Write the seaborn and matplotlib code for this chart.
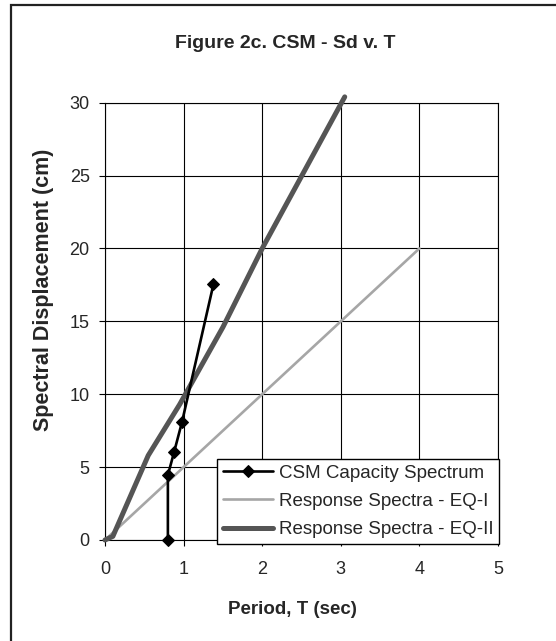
import matplotlib
matplotlib.use("Agg")
import matplotlib.pyplot as plt
import seaborn as sns
import pandas as pd
from matplotlib.patches import Rectangle

# Data
csm_T = [0.8, 0.8, 0.88, 0.98, 1.38]
csm_Sd = [0.0, 4.45, 6.05, 8.1, 17.55]

eq1_T = [0.0, 4.0]
eq1_Sd = [0.0, 20.0]

eq2_T = [0.0, 0.1, 0.55, 0.95, 1.5, 2.0, 3.05]
eq2_Sd = [0.0, 0.25, 5.8, 9.3, 14.6, 20.0, 30.4]

x_ticks = [0, 1, 2, 3, 4, 5]
y_ticks = [0, 5, 10, 15, 20, 25, 30]

labels = ["CSM Capacity Spectrum", "Response Spectra - EQ-I", "Response Spectra - EQ-II"]

sns.set_style("white")
plt.rcParams["font.family"] = ["Liberation Sans", "DejaVu Sans"]

fig = plt.figure(figsize=(5.56, 6.41), dpi=100)
ax = fig.add_axes([105/556, 1-540/641, (498-105)/556, (540-102.7)/641])

df1 = pd.DataFrame({"T": csm_T, "Sd": csm_Sd})
df2 = pd.DataFrame({"T": eq1_T, "Sd": eq1_Sd})
df3 = pd.DataFrame({"T": eq2_T, "Sd": eq2_Sd})

sns.lineplot(data=df2, x="T", y="Sd", ax=ax, color="#a6a6a6", lw=1.9,
             sort=False, estimator=None, label=labels[1], zorder=3)
sns.lineplot(data=df3, x="T", y="Sd", ax=ax, color="#555555", lw=3.6,
             sort=False, estimator=None, label=labels[2], zorder=4)
sns.lineplot(data=df1, x="T", y="Sd", ax=ax, color="black", lw=1.9,
             marker="D", markersize=6, markeredgecolor="black",
             sort=False, estimator=None, label=labels[0], zorder=5)
for ln in ax.lines:
    ln.set_clip_on(False)

ax.set_xlim(0, 5)
ax.set_ylim(0, 30)
ax.set_xticks(x_ticks)
ax.set_yticks(y_ticks)
ax.grid(True, color="black", lw=0.8)
ax.set_axisbelow(True)
for s in ax.spines.values():
    s.set_color("black")
    s.set_linewidth(0.8)
ax.tick_params(axis="both", which="major", direction="out", length=4, width=0.8,
               color="black", labelsize=13, left=True, bottom=True)
ax.tick_params(axis="x", pad=11)
ax.tick_params(axis="y", pad=7)
ax.set_xlabel("")
ax.set_ylabel("")

fig.text(44/556, 1-290/641, "Spectral Displacement (cm)", rotation=90,
         ha="center", va="center", fontsize=15.5, fontweight="bold")
fig.text(292/556, 1-610/641, "Period, T (sec)", ha="center", va="center",
         fontsize=13.5, fontweight="bold")
fig.text(285/556, 1-43/641, "Figure 2c. CSM - Sd v. T", ha="center", va="center",
         fontsize=14, fontweight="bold")

h, l = ax.get_legend_handles_labels()
order = [l.index(x) for x in labels]
leg = ax.legend([h[i] for i in order], [l[i] for i in order],
                loc="lower right", bbox_to_anchor=(499/556, 1-544/641),
                bbox_transform=fig.transFigure, borderaxespad=0,
                fontsize=13.5, handlelength=2.7, handletextpad=0.3,
                labelspacing=0.6, borderpad=0.3, frameon=True, fancybox=False,
                edgecolor="black", framealpha=1)
leg.get_frame().set_linewidth(1.0)
leg.set_zorder(10)

fig.patches.append(Rectangle((11/556, -0.1), 1.2, 1-5/641+0.1,
                             transform=fig.transFigure, fill=False,
                             edgecolor="#222222", lw=1.6, zorder=20))

fig.savefig("out.png", dpi=100)
